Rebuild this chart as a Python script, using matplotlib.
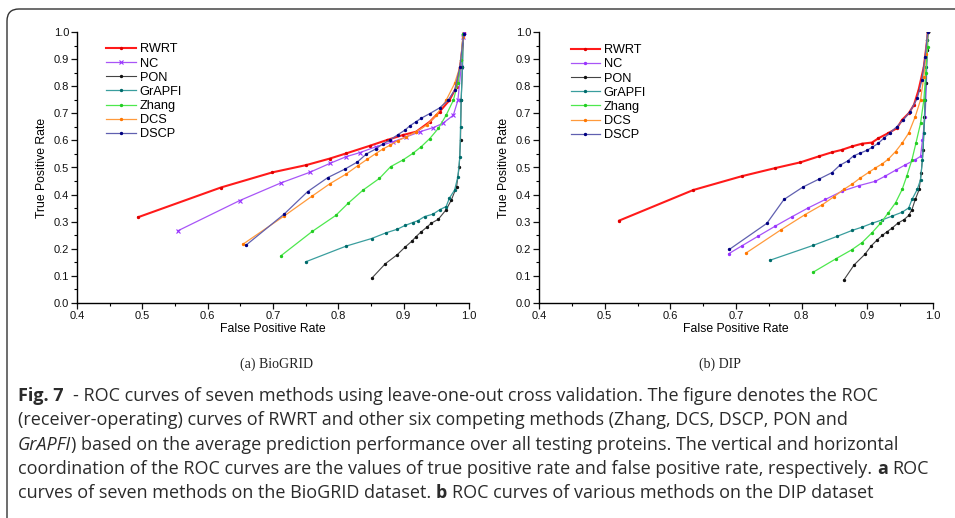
import numpy as np
import matplotlib
matplotlib.use("Agg")
import matplotlib.pyplot as plt
from matplotlib.patches import FancyBboxPatch
from matplotlib.transforms import IdentityTransform
from matplotlib.ticker import MultipleLocator

plt.rcParams['font.family'] = ['Liberation Sans', 'DejaVu Sans']

methods = ["RWRT", "NC", "PON", "GrAPFI", "Zhang", "DCS", "DSCP"]

# (a) BioGRID: false positive rate / true positive rate
bio_fpr = {
    "RWRT": [0.494, 0.620, 0.699, 0.751, 0.787, 0.812, 0.848, 0.874, 0.899, 0.919,
             0.940, 0.955, 0.970, 0.981, 0.988, 0.992],
    "NC": [0.554, 0.649, 0.712, 0.756, 0.787, 0.812, 0.833, 0.858, 0.884, 0.904,
           0.925, 0.945, 0.960, 0.976, 0.983, 0.988, 0.991, 0.992],
    "PON": [0.851, 0.872, 0.890, 0.902, 0.912, 0.919, 0.926, 0.935, 0.942, 0.953,
            0.965, 0.973, 0.981, 0.985, 0.987, 0.988, 0.990, 0.991],
    "GrAPFI": [0.750, 0.812, 0.851, 0.873, 0.890, 0.902, 0.914, 0.922, 0.932, 0.945,
               0.955, 0.965, 0.970, 0.978, 0.983, 0.986, 0.987, 0.988, 0.990, 0.991],
    "Zhang": [0.712, 0.760, 0.796, 0.815, 0.838, 0.863, 0.880, 0.899, 0.914, 0.927,
              0.940, 0.953, 0.965, 0.976, 0.983, 0.988, 0.991],
    "DCS": [0.654, 0.717, 0.759, 0.787, 0.812, 0.830, 0.844, 0.857, 0.868, 0.879,
            0.891, 0.904, 0.919, 0.935, 0.950, 0.965, 0.978, 0.986, 0.991],
    "DSCP": [0.659, 0.717, 0.753, 0.784, 0.810, 0.829, 0.843, 0.857, 0.868, 0.879,
             0.891, 0.902, 0.909, 0.919, 0.927, 0.940, 0.955, 0.968, 0.978, 0.986, 0.992],
}
bio_tpr = {
    "RWRT": [0.317, 0.426, 0.482, 0.509, 0.533, 0.552, 0.580, 0.601, 0.620, 0.632,
             0.669, 0.706, 0.748, 0.798, 0.896, 1.000],
    "NC": [0.266, 0.378, 0.443, 0.482, 0.515, 0.540, 0.555, 0.577, 0.595, 0.613,
           0.632, 0.647, 0.663, 0.693, 0.748, 0.871, 0.982, 1.000],
    "PON": [0.091, 0.145, 0.178, 0.206, 0.227, 0.245, 0.261, 0.279, 0.294, 0.309,
            0.344, 0.380, 0.429, 0.503, 0.601, 0.748, 0.871, 0.994],
    "GrAPFI": [0.152, 0.210, 0.238, 0.259, 0.272, 0.286, 0.297, 0.304, 0.319, 0.328,
               0.344, 0.356, 0.387, 0.417, 0.466, 0.540, 0.650, 0.748, 0.871, 0.994],
    "Zhang": [0.174, 0.264, 0.323, 0.368, 0.417, 0.460, 0.503, 0.528, 0.552, 0.577,
              0.607, 0.644, 0.693, 0.748, 0.810, 0.896, 0.994],
    "DCS": [0.217, 0.321, 0.393, 0.440, 0.476, 0.507, 0.530, 0.551, 0.568, 0.582,
            0.599, 0.613, 0.632, 0.656, 0.693, 0.748, 0.810, 0.871, 0.982],
    "DSCP": [0.214, 0.328, 0.411, 0.463, 0.494, 0.520, 0.550, 0.568, 0.587, 0.601,
             0.621, 0.638, 0.653, 0.669, 0.682, 0.699, 0.720, 0.748, 0.785, 0.871, 0.994],
}

# (b) DIP
dip_fpr = {
    "RWRT": [0.522, 0.635, 0.709, 0.760, 0.798, 0.826, 0.846, 0.861, 0.877, 0.892,
             0.907, 0.917, 0.932, 0.945, 0.953, 0.963, 0.971, 0.978, 0.986, 0.991, 0.992],
    "NC": [0.689, 0.709, 0.734, 0.760, 0.785, 0.810, 0.836, 0.861, 0.887, 0.912,
           0.927, 0.943, 0.958, 0.973, 0.981, 0.984, 0.988, 0.990, 0.991, 0.992],
    "PON": [0.864, 0.880, 0.896, 0.906, 0.915, 0.923, 0.930, 0.938, 0.946, 0.956,
            0.963, 0.968, 0.973, 0.979, 0.982, 0.985, 0.987, 0.989, 0.991, 0.992],
    "GrAPFI": [0.752, 0.818, 0.854, 0.877, 0.892, 0.907, 0.923, 0.938, 0.953, 0.963,
               0.968, 0.976, 0.981, 0.984, 0.986, 0.988, 0.990, 0.991, 0.992],
    "Zhang": [0.817, 0.852, 0.876, 0.892, 0.907, 0.920, 0.932, 0.943, 0.953, 0.960,
              0.968, 0.974, 0.981, 0.986, 0.989, 0.992, 0.992],
    "DCS": [0.715, 0.769, 0.805, 0.831, 0.849, 0.864, 0.877, 0.889, 0.902, 0.912,
            0.923, 0.932, 0.943, 0.953, 0.963, 0.973, 0.981, 0.986, 0.989, 0.992],
    "DSCP": [0.690, 0.747, 0.773, 0.802, 0.827, 0.846, 0.858, 0.870, 0.879, 0.889,
             0.899, 0.907, 0.917, 0.925, 0.935, 0.945, 0.955, 0.965, 0.976, 0.983, 0.988, 0.992],
}
dip_tpr = {
    "RWRT": [0.304, 0.417, 0.468, 0.498, 0.519, 0.541, 0.556, 0.565, 0.578, 0.588,
             0.592, 0.608, 0.627, 0.645, 0.676, 0.700, 0.731, 0.786, 0.871, 0.969, 1.000],
    "NC": [0.182, 0.211, 0.247, 0.284, 0.318, 0.351, 0.382, 0.412, 0.433, 0.449,
           0.468, 0.490, 0.510, 0.529, 0.541, 0.602, 0.688, 0.810, 0.933, 1.000],
    "PON": [0.084, 0.141, 0.179, 0.211, 0.233, 0.250, 0.263, 0.277, 0.294, 0.308,
            0.323, 0.345, 0.382, 0.419, 0.480, 0.565, 0.688, 0.810, 0.933, 1.000],
    "GrAPFI": [0.158, 0.213, 0.246, 0.268, 0.280, 0.294, 0.307, 0.321, 0.335, 0.351,
               0.382, 0.419, 0.455, 0.529, 0.627, 0.749, 0.871, 0.969, 1.000],
    "Zhang": [0.113, 0.163, 0.196, 0.223, 0.259, 0.294, 0.333, 0.370, 0.419, 0.468,
              0.529, 0.590, 0.663, 0.749, 0.847, 0.945, 1.000],
    "DCS": [0.184, 0.271, 0.326, 0.362, 0.392, 0.419, 0.439, 0.461, 0.482, 0.498,
            0.514, 0.531, 0.559, 0.590, 0.627, 0.688, 0.749, 0.835, 0.920, 1.000],
    "DSCP": [0.198, 0.294, 0.382, 0.428, 0.458, 0.481, 0.508, 0.524, 0.543, 0.553,
             0.563, 0.574, 0.590, 0.608, 0.629, 0.651, 0.676, 0.706, 0.755, 0.822, 0.908, 1.000],
}

# line colour, marker colour, line width
styles = {
    "RWRT": ("#ff1a1a", "#e00000", 1.5),
    "NC": ("#a855f7", "#9933ff", 0.9),
    "PON": ("#444444", "#111111", 0.8),
    "GrAPFI": ("#3a9e9e", "#006b6b", 0.9),
    "Zhang": ("#4ee84e", "#22cc22", 0.9),
    "DCS": ("#ff9a3c", "#ff7700", 0.9),
    "DSCP": ("#6060b0", "#000080", 0.9),
}

# caption: (text, weight, style, spaces after)
caption = [
    [("Fig. 7", "bold", "normal", 2),
     ("- ROC curves of seven methods using leave-one-out cross validation. The figure denotes the ROC",
      "normal", "normal", 0)],
    [("(receiver-operating) curves of RWRT and other six competing methods (Zhang, DCS, DSCP, PON and",
      "normal", "normal", 0)],
    [("GrAPFI", "normal", "italic", 0),
     (") based on the average prediction performance over all testing proteins. The vertical and horizontal",
      "normal", "normal", 0)],
    [("coordination of the ROC curves are the values of true positive rate and false positive rate, respectively.",
      "normal", "normal", 1),
     ("a", "bold", "normal", 1), ("ROC", "normal", "normal", 0)],
    [("curves of seven methods on the BioGRID dataset.", "normal", "normal", 1),
     ("b", "bold", "normal", 1),
     ("ROC curves of various methods on the DIP dataset", "normal", "normal", 0)],
]
baselines = [401, 425, 450, 474, 498]

W, H = 955, 518
fig = plt.figure(figsize=(W / 100, H / 100), dpi=100)


def roc_panel(rect, fpr, tpr, legend_xy, nc_marker):
    ax = fig.add_axes(rect)
    for m in methods:
        lc, mc, lw = styles[m]
        mk = nc_marker if m == "NC" else "o"
        ms = 3 if mk == "x" else 1.6
        ax.plot(fpr[m], tpr[m], color=lc, lw=lw, marker=mk, ms=ms,
                mfc=mc, mec=mc, mew=0.8, label=m)
    ax.set_xlim(0.4, 1.0)
    ax.set_ylim(0.0, 1.0)
    ax.xaxis.set_major_locator(MultipleLocator(0.1))
    ax.xaxis.set_minor_locator(MultipleLocator(0.05))
    ax.yaxis.set_major_locator(MultipleLocator(0.1))
    ax.yaxis.set_minor_locator(MultipleLocator(0.05))
    ax.spines['top'].set_visible(False)
    ax.spines['right'].set_visible(False)
    for s in ('left', 'bottom'):
        ax.spines[s].set_linewidth(1.0)
    ax.tick_params(which='major', length=4, width=0.9, labelsize=8, pad=1.5,
                   colors='#111111')
    ax.tick_params(which='minor', length=2, width=0.8)
    ax.set_xlabel("False Positive Rate", fontsize=8.8, labelpad=2)
    ax.set_ylabel("True Positive Rate", fontsize=8.8, labelpad=4)
    ax.legend(loc='upper left', bbox_to_anchor=legend_xy, frameon=False,
              fontsize=9.2, handlelength=2.3, handletextpad=0.3,
              labelspacing=0.17, borderaxespad=0, borderpad=0)
    return ax


roc_panel([77 / W, 1 - 303 / H, 392 / W, 271 / H], bio_fpr, bio_tpr, (0.075, 0.958), "x")
roc_panel([539 / W, 1 - 303 / H, 394 / W, 271 / H], dip_fpr, dip_tpr, (0.08, 0.955), "o")

fig.text(276 / W, 1 - 368 / H, "(a) BioGRID", family='Liberation Serif', fontsize=10,
         ha='center', va='baseline', color='#222222')
fig.text(720 / W, 1 - 368 / H, "(b) DIP", family='Liberation Serif', fontsize=10,
         ha='center', va='baseline', color='#222222')

# caption lines, pieced together from styled runs
cap_kw = dict(family='Open Sans', fontsize=13, ha='left', va='baseline', color='#2b2b2b')
renderer = fig.canvas.get_renderer()


def text_w(s):
    t = fig.text(0, 0, s, **cap_kw)
    w = t.get_window_extent(renderer).width
    t.remove()
    return w


space_w = text_w("n n") - text_w("nn")
for segs, yb in zip(caption, baselines):
    x = 18
    for s, weight, style, gap in segs:
        t = fig.text(x / W, 1 - yb / H, s, fontweight=weight, fontstyle=style, **cap_kw)
        x = t.get_window_extent(renderer).x1 + gap * space_w

# rounded frame around figure and caption
frame = FancyBboxPatch((7, -30), W + 40, H - 9 + 30,
                       boxstyle="round,pad=0,rounding_size=12",
                       transform=IdentityTransform(), fill=False,
                       ec='#333333', lw=1.0)
fig.patches.append(frame)

fig.savefig("out.png", dpi=100)
